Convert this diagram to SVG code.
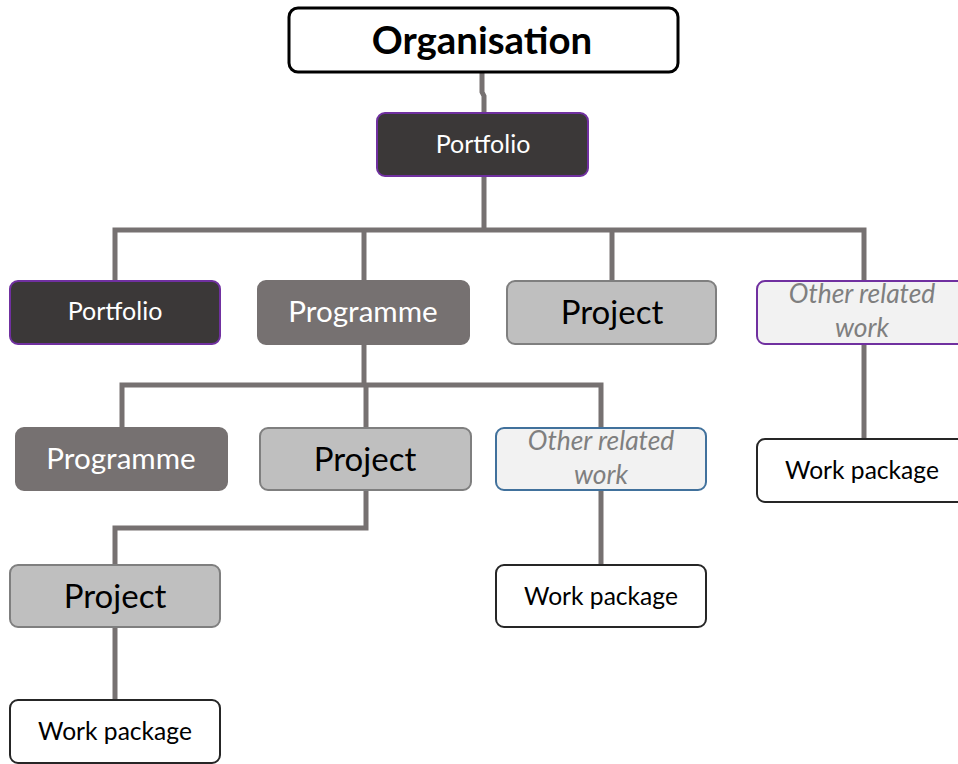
<svg xmlns="http://www.w3.org/2000/svg" width="958" height="764" viewBox="0 0 958 764">
  <style>
    .box { stroke-width: 2; }
    .dark { fill: #3b3838; stroke: #7030a0; }
    .prog { fill: #767171; stroke: #767171; }
    .proj { fill: #bfbfbf; stroke: #7f7f7f; }
    .other { fill: #f2f2f2; stroke: #7030a0; }
    .otherb { fill: #f2f2f2; stroke: #41719c; }
    .wp { fill: #ffffff; stroke: #262626; }
    text { font-family: Lato, "Open Sans", "Liberation Sans", sans-serif; text-anchor: middle; }
    .tw { fill: #ffffff; }
    .tb { fill: #000000; }
    .ti { fill: #7f7f7f; font-style: italic; font-size: 26.4px; }
    .tp { fill: #000000; font-size: 33px; }
    .tg { fill: #ffffff; font-size: 29.6px; }
    .tk { fill: #000000; font-size: 24.6px; }
    .links path { fill: none; stroke: #767171; stroke-width: 5; }
  </style>

  <g class="links">
    <path d="M482 72 L482 92 L484 96 L484 230"/>
    <path d="M115 281 L115 230 L864 230 L864 281"/>
    <path d="M364 230 L364 281"/>
    <path d="M612 230 L612 281"/>
    <path d="M364 344 L364 385"/>
    <path d="M122 428 L122 385 L601 385 L601 428"/>
    <path d="M366 385 L366 428"/>
    <path d="M864 344 L864 439"/>
    <path d="M366 490 L366 528 L115 528 L115 565"/>
    <path d="M601 490 L601 565"/>
    <path d="M115 627 L115 700"/>
  </g>

  <g id="organisation">
    <rect x="289" y="8" width="389" height="64" rx="9" fill="#ffffff" stroke="#000000" stroke-width="3"/>
    <text x="482" y="54" class="tb" font-size="38.4" font-weight="bold">Organisation</text>
  </g>

  <g id="portfolio-top">
    <rect class="box dark" x="377" y="113" width="211" height="63" rx="8"/>
    <text x="483" y="153" class="tw" font-size="25">Portfolio</text>
  </g>

  <g id="portfolio-2">
    <rect class="box dark" x="10" y="281" width="210" height="63" rx="8"/>
    <text x="115" y="320" class="tw" font-size="25">Portfolio</text>
  </g>

  <g id="programme-2">
    <rect class="box prog" x="258" y="281" width="211" height="63" rx="8"/>
    <text x="363" y="322" class="tg">Programme</text>
  </g>

  <g id="project-2">
    <rect class="box proj" x="507" y="281" width="209" height="63" rx="8"/>
    <text x="612" y="324" class="tp">Project</text>
  </g>

  <g id="other-2">
    <rect class="box other" x="757" y="281" width="210" height="63" rx="8"/>
    <text x="862" y="303" class="ti">Other related</text>
    <text x="862" y="337" class="ti">work</text>
  </g>

  <g id="programme-3">
    <rect class="box prog" x="16" y="428" width="211" height="62" rx="8"/>
    <text x="121" y="469" class="tg">Programme</text>
  </g>

  <g id="project-3">
    <rect class="box proj" x="260" y="428" width="211" height="62" rx="8"/>
    <text x="365" y="471" class="tp">Project</text>
  </g>

  <g id="other-3">
    <rect class="box otherb" x="496" y="428" width="210" height="62" rx="8"/>
    <text x="601" y="450" class="ti">Other related</text>
    <text x="601" y="484" class="ti">work</text>
  </g>

  <g id="work-package-right">
    <rect class="box wp" x="757" y="439" width="210" height="63" rx="8"/>
    <text x="862" y="479" class="tk">Work package</text>
  </g>

  <g id="project-4">
    <rect class="box proj" x="10" y="565" width="210" height="62" rx="8"/>
    <text x="115" y="608" class="tp">Project</text>
  </g>

  <g id="work-package-mid">
    <rect class="box wp" x="496" y="565" width="210" height="62" rx="8"/>
    <text x="601" y="605" class="tk">Work package</text>
  </g>

  <g id="work-package-bottom">
    <rect class="box wp" x="10" y="700" width="210" height="63" rx="8"/>
    <text x="115" y="740" class="tk">Work package</text>
  </g>
</svg>
